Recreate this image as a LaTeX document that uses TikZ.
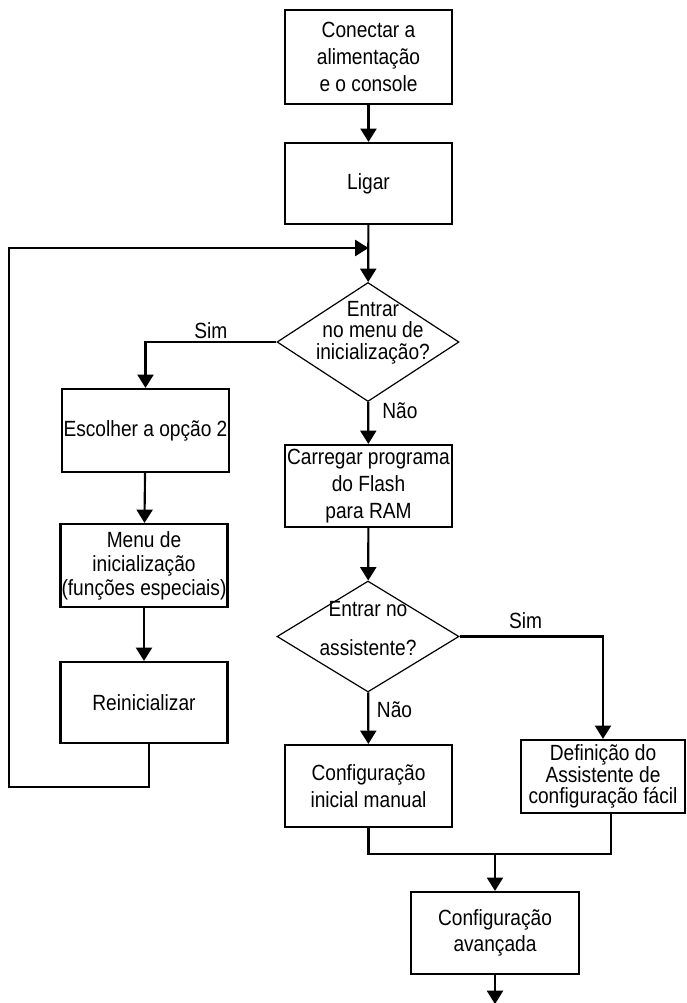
\documentclass[tikz,border=0pt]{standalone}
\usepackage{fontspec}
\setmainfont{Liberation Sans}[FakeStretch=0.87]
\usetikzlibrary{shapes.geometric,arrows.meta}

\tikzset{every picture/.style={line width=1.6pt}}
\tikzset{
proc/.style={draw, rectangle, line width=1.6pt, align=center, inner sep=0.75pt, font=\fontsize{16.5}{20}\selectfont, minimum width=125.25pt},
decide/.style={draw, diamond, line width=0.9pt, inner sep=0pt, minimum width=136.5pt},
qtext/.style={align=center, inner sep=0.75pt},
lbl/.style={font=\fontsize{16.5}{20}\selectfont, inner sep=0.75pt},
arrow/.style={-{Triangle[length=10pt,width=12pt]}}}

\begin{document}
\begin{tikzpicture}[x=0.75pt,y=0.75pt,yscale=-1,xscale=1]
\useasboundingbox (0,0) rectangle (686,1003);

% Boxes
\node [proc, minimum height=70.5pt] (conectar) at (368.5,57) {Conectar a\\alimentação\\e o console};
\node [proc, minimum height=60.75pt] (ligar) at (368.5,183.5) {Ligar};
\node [decide, minimum height=89.25pt, label={[qtext, font=\fontsize{16.5}{16}\selectfont, xshift=3.75pt, yshift=7pt]center:Entrar\\no menu de\\inicialização?}] (menuq) at (368,342) {};
\node [proc, minimum height=62.25pt] (escolher) at (145.5,430.5) {Escolher a opção 2};
\node [proc, minimum height=62.25pt, font=\fontsize{16.5}{18}\selectfont] (bootmenu) at (144,565.5) {Menu de\\inicialização\\(funções especiais)};
\node [proc, minimum height=60.75pt] (reinic) at (144,702.5) {Reinicializar};
\node [proc, minimum height=61.5pt] (carregar) at (368.5,486) {Carregar programa\\do Flash\\para RAM};
\node [decide, minimum height=83.25pt, label={[qtext, font=\fontsize{16.5}{29}\selectfont, yshift=6pt]center:Entrar no\\assistente?}] (assistq) at (368,636.5) {};
\node [proc, minimum height=61.5pt] (manual) at (368.5,786) {Configuração\\inicial manual};
\node [proc, minimum width=123pt, minimum height=54.75pt, font=\fontsize{16.5}{16}\selectfont] (facil) at (603,776.5) {Definição do\\Assistente de\\configuração fácil};
\node [proc, minimum width=126pt, minimum height=61.5pt] (avancada) at (495,933) {Configuração\\avançada};

%Straight Lines
\coordinate (loop) at (368.5,248);
\coordinate (merge) at (495,854);
\draw [arrow] (conectar) -- (ligar);
\draw [arrow] (ligar) -- (menuq);
\draw [arrow] (menuq.west) -| node [lbl, pos=0.25, above=1pt] {Sim} (escolher);
\draw [arrow] (menuq) -- node [lbl, pos=0.2, right=9pt] {Não} (carregar);
\draw [arrow] (escolher) -- (bootmenu);
\draw [arrow] (bootmenu) -- (reinic);
\draw [arrow] ([xshift=3.75pt]reinic.south) -- ++(0,43) -| (9,248) -- (loop);
\draw [arrow] (carregar) -- (assistq);
\draw [arrow] (assistq.east) -| node [lbl, pos=0.23, above=4pt] {Sim} (facil);
\draw [arrow] (assistq) -- node [lbl, pos=0.34, right=5pt] {Não} (manual);
\draw (manual) |- (merge) -| ([xshift=6pt]facil.south);
\draw [arrow] (merge) -- (merge |- avancada.north);
\draw [arrow] (avancada.south) -- ++(0,29);

\end{tikzpicture}
\end{document}
